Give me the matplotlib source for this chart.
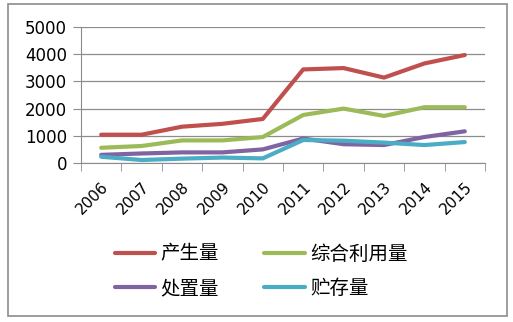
import numpy as np
import matplotlib.pyplot as plt
from matplotlib.patches import Rectangle

plt.rcParams['font.family'] = ['DejaVu Sans']

years = ['2006', '2007', '2008', '2009', '2010', '2011', '2012', '2013', '2014', '2015']
produced = [1040, 1040, 1335, 1440, 1620, 3440, 3490, 3140, 3660, 3970]
utilized = [560, 625, 830, 830, 955, 1765, 2000, 1730, 2050, 2050]
disposed = [300, 350, 390, 390, 500, 900, 690, 660, 955, 1165]
stored = [230, 110, 160, 200, 170, 845, 820, 750, 660, 770]
names = ['产生量', '综合利用量', '处置量', '贮存量']
colors = ['#C0504D', '#9BBB59', '#8064A2', '#4BACC6']

fig = plt.figure(figsize=(5.13, 3.22), dpi=100)
fig.patches.append(Rectangle((8/513, 1-316/322), 499/513, 312/322, transform=fig.transFigure,
                             fill=False, edgecolor='#8c8c8c', lw=1.2))
ax = fig.add_axes([81/513, 1-163/322, 404/513, 136/322])

x = np.arange(len(years))
lines = []
for vals, c in zip([produced, utilized, disposed, stored], colors):
    l, = ax.plot(x, vals, color=c, lw=3, solid_capstyle='round')
    lines.append(l)

ax.set_xlim(-0.5, 9.5)
ax.set_ylim(0, 5000)
ax.set_yticks(range(0, 5001, 1000))
ax.yaxis.grid(True, color='#8c8c8c', lw=0.9)
ax.set_axisbelow(True)
for s in ['top', 'right']:
    ax.spines[s].set_visible(False)
for s in ['left', 'bottom']:
    ax.spines[s].set_color('#8c8c8c')
ax.tick_params(axis='y', length=6, color='#8c8c8c', labelsize=12, pad=4)

ax.set_xticks(x)
ax.set_xticklabels(years, rotation=45, ha='right', va='top', rotation_mode='anchor', fontsize=11)
ax.set_xticks(np.arange(-0.5, 10, 1), minor=True)
ax.tick_params(axis='x', which='major', length=0, pad=12)
ax.tick_params(axis='x', which='minor', length=6, color='#8c8c8c')

# column-wise fill: col 1 = 产生量, 处置量 ; col 2 = 综合利用量, 贮存量
order = [0, 2, 1, 3]
fig.legend([lines[i] for i in order], [names[i] for i in order],
           loc='upper left', bbox_to_anchor=(97/513, 1-226/322),
           ncol=2, frameon=False, prop={'family': 'Noto Sans CJK SC', 'size': 14},
           handlelength=2.1, columnspacing=2.35, handletextpad=0.25, labelspacing=0.7)

fig.savefig('out.png', dpi=100)
